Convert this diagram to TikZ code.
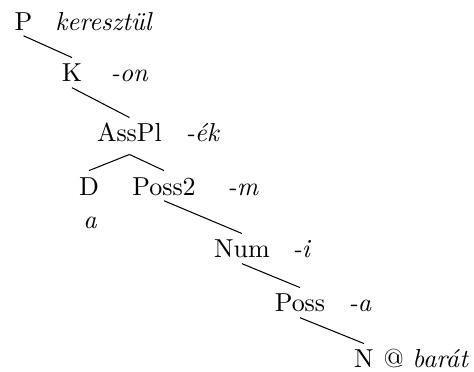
\documentclass[tikz,border=0pt]{standalone}
\usepackage{tikz}
\usetikzlibrary{positioning}
\tikzset{
  catnode/.style={
    anchor=base,
    inner sep=2pt,
    text height=7.2pt,
    text depth=0pt
  },
  affixnode/.style={
    anchor=base west,
    inner sep=0pt,
    font=\itshape
  },
  branch/.style={draw=black, line width=0.4pt}
}
\begin{document}
\begin{tikzpicture}
\useasboundingbox (0,0) rectangle (6.407,-5.028);
\node[catnode] (P) at (0.318,-0.406) {P};
\node[affixnode] (Paff) at (0.743,-0.406) {keresztül};
\node[catnode] (K) at (0.973,-1.108) {K};
\node[affixnode] (Kaff) at (1.487,-1.108) {-on};
\node[catnode, text depth=2.6pt] (AssPl) at (1.750,-1.919) {AssPl};
\node[affixnode] (AssPlaff) at (2.501,-1.919) {-ék};
\node[catnode] (D) at (1.203,-2.636) {D};
\node[affixnode, anchor=base] (Daff) at (1.217,-3.082) {a};
\node[catnode] (Poss2) at (2.217,-2.636) {Poss2};
\node[affixnode] (Poss2aff) at (3.068,-2.636) {-m};
\node[catnode] (Num) at (3.271,-3.487) {Num};
\node[affixnode] (Numaff) at (3.947,-3.487) {-i};
\node[catnode] (Poss) at (4.055,-4.217) {Poss};
\node[affixnode] (Possaff) at (4.704,-4.217) {-a};
\node[catnode] (N) at (4.920,-4.974) {N};
\node[anchor=base west, inner sep=0pt] (Naff) at (5.177,-4.974) {@ \textit{barát}};

\draw[branch] (P.south) -- (K.north);
\draw[branch] (K.south) -- (AssPl.north);
\draw[branch] (AssPl.south) -- (D.north);
\draw[branch] (AssPl.south) -- (Poss2.north);
\draw[branch] (Poss2.south) -- (Num.north);
\draw[branch] (Num.south) -- (Poss.north);
\draw[branch] (Poss.south) -- (N.north);
\end{tikzpicture}
\end{document}
